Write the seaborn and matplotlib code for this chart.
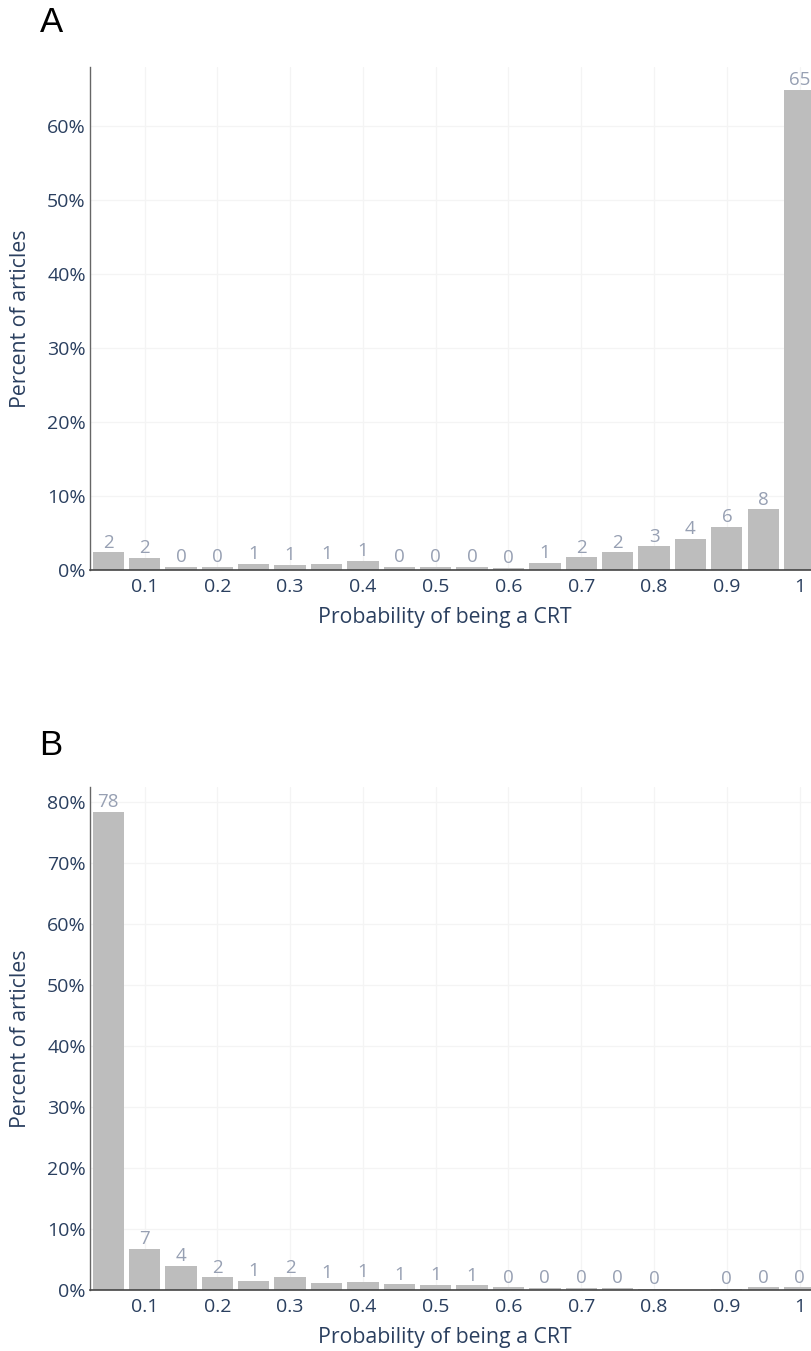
import numpy as np
import pandas as pd
import matplotlib
matplotlib.use("Agg")
import matplotlib.pyplot as plt
import seaborn as sns

# ---------------- data ----------------
bin_centers = [0.05, 0.10, 0.15, 0.20, 0.25, 0.30, 0.35, 0.40, 0.45, 0.50,
               0.55, 0.60, 0.65, 0.70, 0.75, 0.80, 0.85, 0.90, 0.95, 1.00]
pct_a = [2.4, 1.6, 0.45, 0.45, 0.8, 0.7, 0.8, 1.2, 0.45, 0.4,
         0.4, 0.25, 1.0, 1.7, 2.4, 3.2, 4.2, 5.8, 8.2, 64.9]
pct_b = [78.4, 6.7, 4.0, 2.1, 1.45, 2.1, 1.2, 1.35, 0.95, 0.8,
         0.75, 0.45, 0.4, 0.3, 0.3, 0.2, np.nan, 0.2, 0.45, 0.45]
x_tick_values = [0.1, 0.2, 0.3, 0.4, 0.5, 0.6, 0.7, 0.8, 0.9, 1.0]
x_tick_labels = ["0.1", "0.2", "0.3", "0.4", "0.5", "0.6", "0.7", "0.8", "0.9", "1"]
y_ticks_a = [0, 10, 20, 30, 40, 50, 60]
y_ticks_b = [0, 10, 20, 30, 40, 50, 60, 70, 80]
ylim_a = 68
ylim_b = 82.5
panel_labels = ["A", "B"]
x_title = "Probability of being a CRT"
y_title = "Percent of articles"

# ---------------- style ----------------
sns.set_theme(style="white")
plt.rcParams["font.family"] = ["Open Sans", "DejaVu Sans"]

BAR = "#bdbdbd"
TXT = "#2a3f5f"
LBL = "#97a0b3"
GRID = "#f4f4f4"

W, H = 812, 1351
fig = plt.figure(figsize=(W / 100, H / 100), dpi=100)
fig.patch.set_facecolor("white")

cat_order = [f"{c:.2f}" for c in bin_centers]


def make_panel(top_px, bottom_px, values, yticks, ymax, letter, letter_y):
    left_px = 90
    width_px = 727.8
    ax = fig.add_axes([left_px / W, 1 - bottom_px / H, width_px / W,
                       (bottom_px - top_px) / H])
    df = pd.DataFrame({"bin": cat_order, "pct": values}).dropna()
    sns.barplot(data=df, x="bin", y="pct", order=cat_order, color=BAR,
                saturation=1, width=0.86, ax=ax, edgecolor="none")
    labels = [f"{v:.0f}" for v in df["pct"]]
    ax.bar_label(ax.containers[0], labels=labels, padding=0.5,
                 color=LBL, fontsize=13.5)
    ax.set_xlim(-0.5, 19.5)
    ax.set_ylim(0, ymax)
    tick_pos = [cat_order.index(f"{t:.2f}") for t in x_tick_values]
    ax.set_xticks(tick_pos)
    ax.set_xticklabels(x_tick_labels)
    ax.set_yticks(yticks)
    ax.set_yticklabels([f"{t}%" for t in yticks])
    ax.tick_params(axis="both", length=0, labelsize=14, labelcolor=TXT)
    ax.tick_params(axis="y", pad=3)
    ax.tick_params(axis="x", pad=6)
    ax.grid(True, color=GRID, linewidth=0.9)
    ax.set_axisbelow(True)
    for s in ["top", "right"]:
        ax.spines[s].set_visible(False)
    ax.spines["left"].set_color("#666666")
    ax.spines["left"].set_linewidth(1.0)
    ax.spines["bottom"].set_color("#444444")
    ax.spines["bottom"].set_linewidth(1.2)
    ax.set_xlabel(x_title, fontsize=15.3, color=TXT)
    ax.set_ylabel(y_title, fontsize=15.3, color=TXT)
    h = bottom_px - top_px
    ax.xaxis.set_label_coords(0.5 - (90 + 727.8 / 2 - 445) / 727.8, -37 / h)
    ax.yaxis.set_label_coords(-59 / 727.8, 0.5)
    fig.text(51 / W, 1 - letter_y / H, letter, ha="center", va="center",
             fontsize=25, color="black", family=["Liberation Sans", "DejaVu Sans"])
    return ax


make_panel(67, 570, pct_a, y_ticks_a, ylim_a, panel_labels[0], 23)
make_panel(787, 1290, pct_b, y_ticks_b, ylim_b, panel_labels[1], 746)

fig.savefig("out.png", dpi=100, facecolor="white")
